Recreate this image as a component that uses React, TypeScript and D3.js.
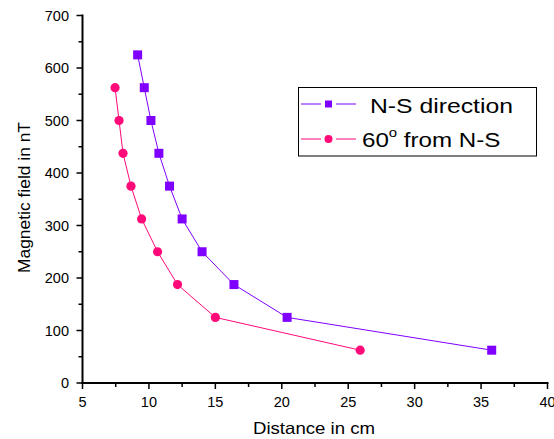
import React from 'react';
import * as d3 from 'd3';

const nsDistance = [9.15, 9.65, 10.15, 10.75, 11.55, 12.5, 14, 16.4, 20.4, 35.8];
const nsField = [625, 562.5, 500, 437.5, 375, 312.5, 250, 187.5, 125, 62.5];
const deg60Distance = [7.45, 7.75, 8.05, 8.65, 9.45, 10.65, 12.15, 15.0, 25.9];
const deg60Field = [562.5, 500, 437.5, 375, 312.5, 250, 187.5, 125, 62.5];
const xTicks = [5, 10, 15, 20, 25, 30, 35, 40];
const yTicks = [0, 100, 200, 300, 400, 500, 600, 700];

const purple = '#8000FF';
const pink = '#FF0A78';
const font = 'Arial, "Liberation Sans", sans-serif';

const App = () => {
  const x = d3.scaleLinear().domain([5, 40]).range([82.5, 547.5]);
  const y = d3.scaleLinear().domain([0, 700]).range([383, 15.5]);

  const line = d3.line<[number, number]>()
    .x(d => x(d[0]))
    .y(d => y(d[1]));

  const ns = nsDistance.map((d, i) => [d, nsField[i]] as [number, number]);
  const d60 = deg60Distance.map((d, i) => [d, deg60Field[i]] as [number, number]);

  const xMinor = d3.range(7.5, 40, 5);
  const yMinor = d3.range(50, 700, 100);

  return (
    <svg width={554} height={439} style={{ position: 'absolute', left: 0, top: 0, background: '#fff' }}
      fontFamily={font}>
      {/* axes */}
      <line x1={x(5)} x2={x(5)} y1={y(700) - 1} y2={y(0) + 1} stroke="#000" strokeWidth={2} />
      <line x1={x(5) - 1} x2={x(40) + 1} y1={y(0)} y2={y(0)} stroke="#000" strokeWidth={2} />
      {xTicks.map(t => (
        <g key={'xt' + t}>
          <line x1={x(t)} x2={x(t)} y1={y(0)} y2={y(0) + 6} stroke="#000" strokeWidth={1.5} />
          <text x={x(t)} y={407} textAnchor="middle" fontSize={14.5}>{t}</text>
        </g>
      ))}
      {xMinor.map(t => (
        <line key={'xm' + t} x1={x(t)} x2={x(t)} y1={y(0)} y2={y(0) + 4} stroke="#000" strokeWidth={1.5} />
      ))}
      {yTicks.map(t => (
        <g key={'yt' + t}>
          <line x1={x(5) - 6} x2={x(5)} y1={y(t)} y2={y(t)} stroke="#000" strokeWidth={1.5} />
          <text x={69} y={y(t) + 5} textAnchor="end" fontSize={14.5}>{t}</text>
        </g>
      ))}
      {yMinor.map(t => (
        <line key={'ym' + t} x1={x(5) - 4} x2={x(5)} y1={y(t)} y2={y(t)} stroke="#000" strokeWidth={1.5} />
      ))}
      <text x={253} y={434} fontSize={16.5} textLength={122} lengthAdjust="spacingAndGlyphs">Distance in cm</text>
      <text transform="translate(30,273) rotate(-90)" fontSize={16.5} textLength={151}
        lengthAdjust="spacingAndGlyphs">Magnetic field in nT</text>

      {/* series */}
      <path d={line(ns) ?? ''} fill="none" stroke={purple} strokeWidth={1} />
      <path d={line(d60) ?? ''} fill="none" stroke={pink} strokeWidth={1} />
      {ns.map((d, i) => (
        <rect key={'n' + i} x={x(d[0]) - 4.5} y={y(d[1]) - 4.5} width={9} height={9} fill={purple} />
      ))}
      {d60.map((d, i) => (
        <circle key={'p' + i} cx={x(d[0])} cy={y(d[1])} r={4.6} fill={pink} />
      ))}

      {/* legend */}
      <rect x={298.5} y={87.5} width={238} height={68.5} fill="#fff" stroke="#000" strokeWidth={1} />
      <line x1={301} x2={321} y1={104} y2={104} stroke={purple} />
      <line x1={336} x2={356} y1={104} y2={104} stroke={purple} />
      <rect x={325} y={100.5} width={7} height={7} fill={purple} />
      <text x={370} y={113} fontSize={21} textLength={143} lengthAdjust="spacingAndGlyphs">N-S direction</text>
      <line x1={301} x2={321} y1={139} y2={139} stroke={pink} />
      <line x1={336} x2={356} y1={139} y2={139} stroke={pink} />
      <circle cx={328.5} cy={139} r={4} fill={pink} />
      <g transform="translate(362,147) scale(1.15,1)">
        <text x={0} y={0} fontSize={21}>
          60<tspan dy={-10} fontSize={13}>o</tspan><tspan dy={10}> from N-S</tspan>
        </text>
      </g>
    </svg>
  );
};

export default App;
